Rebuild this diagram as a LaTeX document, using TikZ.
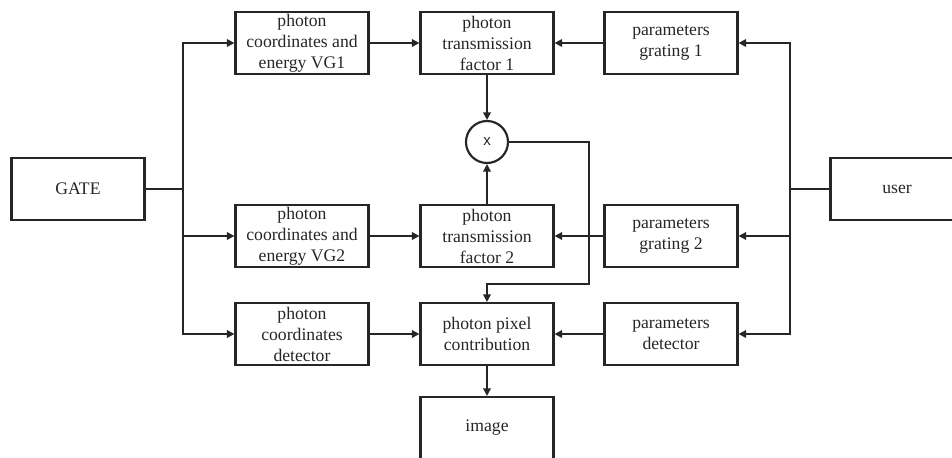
\documentclass[tikz,border=0pt]{standalone}
\usepackage{fontspec}
\setmainfont{Liberation Serif}
\newfontfamily\xfont{Liberation Sans}
\usetikzlibrary{calc}
\usetikzlibrary{arrows.meta}

\begin{document}
\begin{tikzpicture}[x=0.6pt,y=-0.6pt]
\def\lw{1.3pt}
\def\bw{79.8pt}
\def\bh{37.2pt}
\colorlet{ink}{black!85}
\tikzset{blk/.style={draw=ink,line width=\lw,minimum width=\bw,minimum height=\bh,align=center,inner sep=1pt,text=ink,font=\fontsize{10.6}{12.6}\selectfont},
         con/.style={draw=ink,line width=\lw,-{Triangle[length=4.5pt,width=4.5pt]}}}

\useasboundingbox (0,0) rectangle (952,457);

\node[blk] (gate) at (78,189) {GATE};
\node[blk] (user) at (897,189) {user};

\node[blk] (vg1) at (302,43)  {photon\\coordinates and\\energy VG1};
\node[blk] (tf1) at (487,43)  {photon\\transmission\\factor 1};
\node[blk] (pg1) at (671,43)  {parameters\\grating 1};

\node[circle,draw=ink,line width=\lw,minimum size=25.2pt,inner sep=0pt,text=ink,font=\xfont\small] (mul) at (487,142) {x};

\node[blk] (vg2) at (302,236) {photon\\coordinates and\\energy VG2};
\node[blk] (tf2) at (487,236) {photon\\transmission\\factor 2};
\node[blk] (pg2) at (671,236) {parameters\\grating 2};

\node[blk] (cd)  at (302,334) {photon\\coordinates\\detector};
\node[blk] (pix) at (487,334) {photon pixel\\contribution};
\node[blk] (pd)  at (671,334) {parameters\\detector};

\node[blk] (img) at (487,428) {image};

\coordinate (lt) at (183,189);
\coordinate (rt) at (790,189);
\coordinate (fb) at (589,284);

\draw[draw=ink,line width=\lw] (gate.east) -- (lt);
\draw[con] (lt) |- (vg1.west);
\draw[con] (lt) |- (vg2.west);
\draw[con] (lt) |- (cd.west);

\draw[draw=ink,line width=\lw] (user.west) -- (rt);
\draw[con] (rt) |- (pg1.east);
\draw[con] (rt) |- (pg2.east);
\draw[con] (rt) |- (pd.east);

\draw[con] (vg1) -- (tf1);
\draw[con] (pg1) -- (tf1);
\draw[con] (vg2) -- (tf2);
\draw[con] (pg2) -- (tf2);
\draw[con] (cd) -- (pix);
\draw[con] (pd) -- (pix);

\draw[con] (tf1) -- (mul);
\draw[con] (tf2) -- (mul);
\draw[con] (mul.east) -| (fb) -| (pix.north);
\draw[con] (pix) -- (img);

\end{tikzpicture}
\end{document}
